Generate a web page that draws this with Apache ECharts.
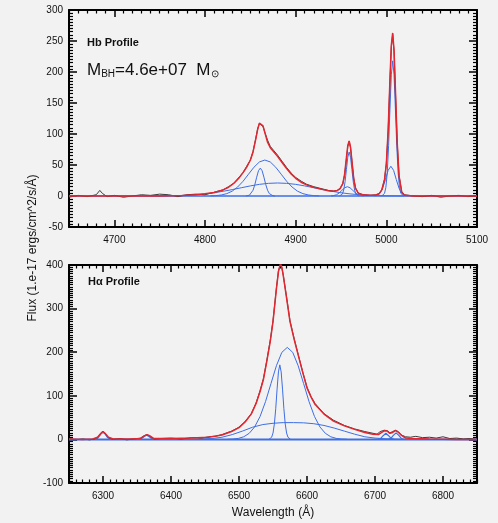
<!DOCTYPE html>
<html><head><meta charset="utf-8">
<script src="https://cdn.jsdelivr.net/npm/echarts@6/dist/echarts.min.js"></script>
<style>html,body{margin:0;padding:0;background:#f2f2f2;}#c{width:498px;height:523px;}</style>
</head><body><div id="c"></div>
<script>
// ---------- Tick labels ----------
const topMajorX = [4700, 4800, 4900, 5000, 5100];
const botMajorX = [6300, 6400, 6500, 6600, 6700, 6800];

// ---------- Hb panel ----------
const hbObsWave = [4650,4660,4670,4680,4684,4687,4692,4700,4710,4720,4730,4740,4750,4760,4770,4780,4790,4800,4810,4820,4826,4832,4838,4842,4846,4850,4853,4856,4858,4860,4861,4862,4864,4866,4869,4872,4876,4880,4885,4890,4895,4900,4906,4912,4920,4928,4936,4942,4946,4949,4952,4954,4956,4957.5,4959,4960.5,4962,4964,4966,4969,4974,4982,4988,4992,4995,4998,5000,5002,5004,5005.5,5007,5008.5,5010,5012,5014,5017,5020,5030,5040,5050,5060,5070,5080,5090,5100];
const hbObsFlux = [-2,1,-1,2,9,4,-1,1,-2,0,2,1,3,2,-1,2,3,2,6,10,15,21,31,38,48,58,72,93,108,117,118,117,112,103,90,80,73,66,56,46,37,30,24,19,15,12,9,8,9,12,20,34,60,80,88,78,57,29,13,5,2,1,2,4,10,27,52,104,185,240,261,233,170,86,33,7,2,0,-1,1,-2,0,1,-1,0];

const hbModelWave = [4650,4700,4750,4775,4790,4800,4810,4820,4826,4832,4838,4842,4846,4850,4853,4856,4858,4860,4861,4862,4864,4866,4869,4872,4876,4880,4885,4890,4895,4900,4906,4912,4920,4928,4936,4942,4946,4949,4952,4954,4956,4957.5,4959,4960.5,4962,4964,4966,4969,4974,4982,4988,4992,4995,4998,5000,5002,5004,5005.5,5007,5008.5,5010,5012,5014,5017,5020,5030,5100];
const hbModelFlux = [0,0,0.2,0.9,2.1,3.5,5.7,9.8,14.1,20.6,30,37.7,46.6,57.7,71.1,91.8,106.8,117.6,119.8,119.7,113.1,102.2,86.8,77.8,70.9,63.9,54.1,44.2,35.5,28.5,22.2,17.9,13.9,11.1,8.6,7.8,8.9,11.9,20.1,35.3,62,81.5,88.8,78.9,57.1,28.1,12.3,4.5,2,1.1,1.2,3.5,9.9,26.3,51.6,106,188,243,263,235,172,86,32.5,6,1.2,0,0];

const hbNarrowWave = [4845,4847,4849,4851,4853,4855,4857,4859,4861,4863,4865,4867,4869,4871,4873,4875,4877];
const hbNarrowFlux = [0,0.4,1.3,3.8,9.3,18.5,30.3,40.8,45,40.8,30.3,18.5,9.3,3.8,1.3,0.4,0];

const hbBroadWave = [4806,4812,4818,4824,4830,4836,4842,4848,4854,4860,4866,4872,4878,4884,4890,4896,4902,4908,4914,4920,4926];
const hbBroadFlux = [0.2,0.6,1.7,3.8,7.8,14.5,23.8,35.2,46.4,54.9,58,54.9,46.4,35.2,23.8,14.5,7.8,3.8,1.7,0.6,0.2];

const hbVBroadWave = [4740,4750,4760,4770,4780,4790,4800,4810,4820,4830,4840,4850,4860,4870,4880,4890,4900,4910,4920,4930,4940,4950,4960,4970,4980,4990,5000,5010,5020];
const hbVBroadFlux = [0.1,0.2,0.35,0.7,1.2,2.1,3.4,5.2,7.6,10.3,13.3,16.3,18.8,20.4,21,20.4,18.8,16.3,13.3,10.3,7.6,5.2,3.4,2.1,1.2,0.7,0.35,0.2,0.1];

const o3aWave = [4948.5,4950,4951.5,4953,4954.5,4956,4957.5,4959,4960.5,4962,4963.5,4965,4966.5,4968,4969.5];
const o3aFlux = [0.2,0.8,3.1,9.6,23.1,43.1,62.7,71,62.7,43.1,23.1,9.6,3.1,0.8,0.2];
const o3aWingWave = [4939,4942,4945,4948,4951,4954,4957,4960,4963,4966,4969,4972,4975];
const o3aWingFlux = [0.2,0.7,2,4.9,9.1,13.2,15,13.2,9.1,4.9,2,0.7,0.2];

const o3bWave = [4995,4996.5,4998,4999.5,5001,5002.5,5004,5005.5,5007,5008.5,5010,5011.5,5013,5014.5,5016,5017.5,5019];
const o3bFlux = [0.2,1,4.2,14,37.5,81.1,140.5,195.4,218,195.4,140.5,81.1,37.5,14,4.2,1,0.2];
const o3bWingWave = [4987,4990,4993,4996,4999,5002,5005,5008,5011,5014,5017,5020,5023];
const o3bWingFlux = [0.2,1.2,4.4,12.6,26.5,41.4,48,41.4,26.5,12.6,4.4,1.2,0.2];

const hbBaseWave = [4650, 5100];
const hbBaseFlux = [0, 0];

// ---------- Ha panel ----------
const haObsWave = [6250,6260,6270,6280,6288,6293,6297,6300,6303,6308,6315,6325,6335,6345,6355,6361,6365,6369,6375,6385,6400,6415,6430,6445,6455,6465,6475,6489,6500,6509,6518,6525,6531,6536,6541,6546,6550,6555,6558,6561,6563,6565,6570,6575,6581,6587,6594,6600,6606,6612,6625,6639,6655,6670,6685,6697,6703,6707,6711,6714,6718,6722,6726,6730,6734,6739,6745,6752,6760,6770,6780,6790,6800,6810,6820,6830,6840,6850];
const haObsFlux = [2,-1,1,-1,1,6,15,19,13,4,0,2,-1,1,3,9,11,7,1,2,3,1,4,3,6,7,11,19,28,41,59,83,112,140,182,228,272,347,386,402,393,378,326,272,232,195,153,120,98,82,59,44,32,24,18,14,12,17,20,21,20,15,18,21,18,10,6,5,7,4,5,3,6,2,3,1,2,0];

const haModelWave = [6250,6270,6285,6292,6297,6300,6303,6308,6315,6340,6355,6361,6365,6369,6375,6400,6430,6455,6475,6489,6500,6509,6518,6525,6531,6536,6541,6546,6550,6555,6558,6561,6563,6565,6570,6575,6581,6587,6594,6600,6606,6612,6625,6639,6655,6670,6685,6697,6705,6710,6714,6718,6722,6726,6730,6734,6739,6745,6755,6780,6820,6850];
const haModelFlux = [1,0,1,5,14,18,14,5,1,1,2,8,11,8,2,2,3,5,10,18,27,40,58,82,110,138,180,225,270,345,385,404,395,377,324,270,230,194,152,118,97,80,58,42,31,23,16,12,11,16,20,19,14,16,20,17,9,3,2,1,0,0];

const haNarrowWave = [6544,6546,6548,6550,6552,6554,6556,6558,6560,6562,6564,6566,6568,6570,6572,6574,6576];
const haNarrowFlux = [0,1.4,4.9,14.5,35.2,70.3,115.3,154.9,171,154.9,115.3,70.3,35.2,14.5,4.9,1.4,0];

const haBroadWave = [6483,6491,6499,6507,6515,6523,6531,6539,6547,6555,6563,6571,6579,6587,6595,6603,6611,6619,6627,6635,6643,6651,6659];
const haBroadFlux = [0.3,0.8,2.3,6,13.9,28.6,52.6,86.7,128,168.9,199.6,211,199.6,168.9,128,86.7,52.6,28.6,13.9,6,2.3,0.8,0.3];

const haVBroadWave = [6440,6460,6475,6490,6505,6520,6535,6550,6565,6580,6595,6610,6625,6640,6655,6670,6685,6700,6720,6740];
const haVBroadFlux = [0.5,2,5,11,19,28,34,37,38.5,38.5,38,36,32,26,19,12,6,3,1,0.3];

const o1aWave = [6288,6290,6292,6294,6296,6298,6300,6302,6304,6306,6308,6310,6312];
const o1aFlux = [0.2,0.7,2.3,5.5,10.3,15,17,15,10.3,5.5,2.3,0.7,0.2];
const o1bWave = [6352,6354,6356,6358,6360,6362,6364,6366,6368,6370,6372,6374,6376];
const o1bFlux = [0.1,0.4,1.4,3.2,6.1,8.8,10,8.8,6.1,3.2,1.4,0.4,0.1];
const s2aWave = [6704,6706,6708,6710,6712,6714,6716,6718,6720,6722,6724,6726,6728];
const s2aFlux = [0.2,0.6,1.9,4.6,8.5,12.3,14,12.3,8.5,4.6,1.9,0.6,0.2];
const s2bWave = [6719,6721,6723,6725,6727,6729,6731,6733,6735,6737,6739,6741,6743];
const s2bFlux = [0.2,0.7,2,4.9,9.1,13.2,15,13.2,9.1,4.9,2,0.7,0.2];

const haBaseWave = [6250, 6850];
const haBaseFlux = [0, 0];

// ---------- build ----------
const RED = '#e3262f', BLUE = '#3d6ee6', OBS = '#3a3a3a';
function pairs(w, f) { return w.map((x, i) => [x, f[i]]); }
function line(w, f, color, width, xi, yi, z) {
  return { type: 'line', data: pairs(w, f), xAxisIndex: xi, yAxisIndex: yi, symbol: 'none',
    showSymbol: false, silent: true, z: z, lineStyle: { color: color, width: width }, animation: false };
}
function minorList(min, max, step, majors) {
  const out = [];
  for (let v = min; v <= max; v += step) if (majors.indexOf(v) < 0) out.push(v);
  return out;
}
const labelFont = { fontFamily: 'Liberation Sans', fontSize: 10, color: '#111', formatter: function (v) { return String(v); } };
const axLine = { show: true, onZero: false, lineStyle: { color: '#000', width: 2 } };
const noLine = { show: false, onZero: false };

function xAxes(gi, min, max, majors) {
  const minors = minorList(min, max, 10, majors);
  return [
    { gridIndex: gi, type: 'value', min: min, max: max, position: 'bottom', axisLine: axLine,
      axisTick: { inside: true, length: 7, customValues: majors, lineStyle: { color: '#000', width: 1.5 } },
      axisLabel: Object.assign({ customValues: majors, margin: 8 }, labelFont), splitLine: { show: false } },
    { gridIndex: gi, type: 'value', min: min, max: max, position: 'top', axisLine: axLine,
      axisTick: { inside: true, length: 7, customValues: majors, lineStyle: { color: '#000', width: 1.5 } },
      axisLabel: { show: false }, splitLine: { show: false } },
    { gridIndex: gi, type: 'value', min: min, max: max, position: 'bottom', axisLine: noLine,
      axisTick: { inside: true, length: 3.5, customValues: minors, lineStyle: { color: '#000', width: 1.2 } },
      axisLabel: { show: false }, splitLine: { show: false } },
    { gridIndex: gi, type: 'value', min: min, max: max, position: 'top', axisLine: noLine,
      axisTick: { inside: true, length: 3.5, customValues: minors, lineStyle: { color: '#000', width: 1.2 } },
      axisLabel: { show: false }, splitLine: { show: false } }
  ];
}
function yAxes(gi, min, max, interval, minorSplit) {
  const base = { gridIndex: gi, type: 'value', min: min, max: max, interval: interval, axisLine: axLine,
    axisTick: { inside: true, length: 8, lineStyle: { color: '#000', width: 1.5 } },
    minorTick: { show: true, splitNumber: minorSplit, length: 4, lineStyle: { color: '#000', width: 1.2 } },
    splitLine: { show: false }, minorSplitLine: { show: false } };
  return [
    Object.assign({}, base, { position: 'left', axisLabel: Object.assign({ margin: 6 }, labelFont) }),
    Object.assign({}, base, { position: 'right', axisLabel: { show: false } })
  ];
}

const series = [
  line(hbBaseWave, hbBaseFlux, BLUE, 1.5, 0, 0, 2),
  line(hbNarrowWave, hbNarrowFlux, BLUE, 1, 0, 0, 2),
  line(hbBroadWave, hbBroadFlux, BLUE, 1, 0, 0, 2),
  line(hbVBroadWave, hbVBroadFlux, BLUE, 1, 0, 0, 2),
  line(o3aWave, o3aFlux, BLUE, 1, 0, 0, 2),
  line(o3aWingWave, o3aWingFlux, BLUE, 1, 0, 0, 2),
  line(o3bWave, o3bFlux, BLUE, 1, 0, 0, 2),
  line(o3bWingWave, o3bWingFlux, BLUE, 1, 0, 0, 2),
  line(hbObsWave, hbObsFlux, OBS, 1, 0, 0, 3),
  line(hbModelWave, hbModelFlux, RED, 1.5, 0, 0, 4),

  line(haBaseWave, haBaseFlux, BLUE, 2, 4, 2, 2),
  line(haNarrowWave, haNarrowFlux, BLUE, 1, 4, 2, 2),
  line(haBroadWave, haBroadFlux, BLUE, 1, 4, 2, 2),
  line(haVBroadWave, haVBroadFlux, BLUE, 1, 4, 2, 2),
  line(o1aWave, o1aFlux, BLUE, 1.2, 4, 2, 2),
  line(o1bWave, o1bFlux, BLUE, 1.2, 4, 2, 2),
  line(s2aWave, s2aFlux, BLUE, 1.2, 4, 2, 2),
  line(s2bWave, s2bFlux, BLUE, 1.2, 4, 2, 2),
  line(haObsWave, haObsFlux, OBS, 1, 4, 2, 3),
  line(haModelWave, haModelFlux, RED, 1.5, 4, 2, 4)
];

const chart = echarts.init(document.getElementById('c'), null, { renderer: 'canvas' });
chart.setOption({
  backgroundColor: '#f2f2f2',
  animation: false,
  grid: [
    { left: 69, top: 10, width: 408, height: 217 },
    { left: 69, top: 265, width: 408, height: 218 }
  ],
  xAxis: xAxes(0, 4650, 5100, topMajorX).concat(xAxes(1, 6250, 6850, botMajorX)),
  yAxis: yAxes(0, -50, 300, 50, 10).concat(yAxes(1, -100, 400, 100, 20)),
  series: series,
  graphic: [
    { type: 'text', left: 87, top: 37, style: { text: 'Hb Profile', font: 'bold 11px "Liberation Sans"', fill: '#111' } },
    { type: 'text', left: 87, top: 62, style: {
        text: '{m|M}{s|BH}{m|=4.6e+07  M}{s|⊙}',
        rich: {
          m: { fontFamily: 'Liberation Sans', fontSize: 17, fill: '#111' },
          s: { fontFamily: 'Liberation Sans', fontSize: 10, fill: '#111', padding: [8, 0, 0, 0] }
        } } },
    { type: 'text', left: 88, top: 276, style: { text: 'Hα Profile', font: 'bold 11px "Liberation Sans"', fill: '#111' } },
    { type: 'text', x: 33, y: 248, rotation: Math.PI / 2, style: {
        text: 'Flux (1.e-17 ergs/cm^2/s/Å)', font: '12px "Liberation Sans"', fill: '#111', align: 'center', verticalAlign: 'middle' } },
    { type: 'text', x: 273, y: 513, style: {
        text: 'Wavelength (Å)', font: '12px "Liberation Sans"', fill: '#111', align: 'center', verticalAlign: 'middle' } }
  ]
});
</script></body></html>
